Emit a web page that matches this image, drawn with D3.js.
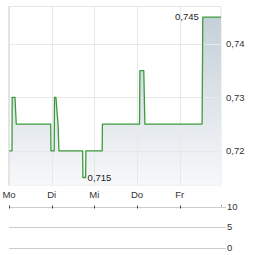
<!DOCTYPE html>
<html lang="de">
<head>
<meta charset="UTF-8">
<title>Kurs</title>
<script src="https://d3js.org/d3.v7.min.js"></script>
<style>
  body { margin: 0; background: #fff; }
  svg { display: block; font-family: "Liberation Sans", Arial, sans-serif; }
</style>
</head>
<body>
<svg id="chart" width="264" height="255"></svg>
<script>
(function () {
  'use strict';

  // time in trading-day units (0 = Mo), price in EUR
  const times  = [0.007, 0.07, 0.075, 0.14, 0.17, 0.977, 0.984, 1.06, 1.066, 1.10, 1.15, 1.17,
                  1.726, 1.733, 1.796, 1.803, 2.185, 2.19, 3.06, 3.068, 3.16, 3.185, 4.527, 4.543, 4.97];
  const prices = [0.72, 0.72, 0.73, 0.73, 0.725, 0.725, 0.72, 0.72, 0.73, 0.73, 0.725, 0.72,
                  0.72, 0.715, 0.715, 0.72, 0.72, 0.725, 0.725, 0.735, 0.735, 0.725, 0.725, 0.745, 0.745];

  const dayLabels = ["Mo", "Di", "Mi", "Do", "Fr"];
  const priceTicks = [0.72, 0.73, 0.74];
  const volumeTicks = [0, 5, 10];

  const fmt = v => d3.format(",")(v).replace(".", ",");
  const fmt3 = v => d3.format(".3f")(v).replace(".", ",");

  const svg = d3.select("#chart");

  const x = d3.scaleLinear().domain([0, 4.97]).range([9, 221]);
  const y = d3.scaleLinear().domain([0.7136, 0.7469]).range([185, 7]);
  const vy = d3.scaleLinear().domain([0, 10]).range([247.5, 206.5]);

  const data = times.map((t, i) => ({ t: t, p: prices[i] }));

  // gradient for the area
  const defs = svg.append("defs");
  const grad = defs.append("linearGradient")
      .attr("id", "areaGrad")
      .attr("gradientUnits", "userSpaceOnUse")
      .attr("x1", 0).attr("y1", y.range()[1])
      .attr("x2", 0).attr("y2", y.range()[0]);
  grad.append("stop").attr("offset", "0%").attr("stop-color", "#c1cdd6");
  grad.append("stop").attr("offset", "100%").attr("stop-color", "#f7f8fa");

  // plot frame
  svg.append("rect")
      .attr("x", 8.5).attr("y", 6.5)
      .attr("width", 221 - 8.5).attr("height", 185 - 6.5)
      .attr("fill", "#fff")
      .attr("stroke", "#e6e6e6")
      .attr("stroke-width", 1);

  // area under the line
  const area = d3.area()
      .x(d => x(d.t))
      .y0(y.range()[0])
      .y1(d => y(d.p));
  svg.append("path")
      .datum(data)
      .attr("fill", "url(#areaGrad)")
      .attr("d", area);

  // grid lines
  const grid = svg.append("g").attr("stroke", "#e8e8e8").attr("stroke-width", 1);
  grid.selectAll("line.h")
      .data(priceTicks)
      .join("line")
      .attr("class", "h")
      .attr("x1", 9).attr("x2", 221)
      .attr("y1", d => Math.round(y(d)) + 0.5)
      .attr("y2", d => Math.round(y(d)) + 0.5);
  grid.selectAll("line.v")
      .data(d3.range(dayLabels.length))
      .join("line")
      .attr("class", "v")
      .attr("x1", d => Math.round(x(d)) + 0.5)
      .attr("x2", d => Math.round(x(d)) + 0.5)
      .attr("y1", 7).attr("y2", 185);

  // left border slightly heavier
  svg.append("line")
      .attr("x1", 9).attr("x2", 9).attr("y1", 6).attr("y2", 185)
      .attr("stroke", "#e4e4e4").attr("stroke-width", 2);

  // price line
  const line = d3.line()
      .x(d => x(d.t))
      .y(d => y(d.p));
  svg.append("path")
      .datum(data)
      .attr("fill", "none")
      .attr("stroke", "#3d9b3d")
      .attr("stroke-width", 1.3)
      .attr("stroke-linejoin", "round")
      .attr("d", line);

  // right price axis labels
  svg.append("g")
      .selectAll("text")
      .data(priceTicks)
      .join("text")
      .attr("x", 226)
      .attr("y", d => y(d))
      .attr("dy", "0.35em")
      .attr("font-size", 9.5)
      .attr("fill", "#333")
      .text(d => fmt(d));

  // max / min annotations
  const maxPt = data.reduce((a, b) => (b.p > a.p ? b : a));
  const minPt = data.reduce((a, b) => (b.p < a.p ? b : a));
  svg.append("text")
      .attr("x", x(maxPt.t) - 4)
      .attr("y", y(maxPt.p))
      .attr("dy", "0.35em")
      .attr("text-anchor", "end")
      .attr("font-size", 9.5)
      .attr("fill", "#222")
      .text(fmt3(maxPt.p));
  svg.append("text")
      .attr("x", x(data[14].t) + 2)
      .attr("y", y(minPt.p))
      .attr("dy", "0.35em")
      .attr("font-size", 9.5)
      .attr("fill", "#222")
      .text(fmt3(minPt.p));

  // day labels
  svg.append("g")
      .selectAll("text")
      .data(dayLabels)
      .join("text")
      .attr("x", (d, i) => x(i))
      .attr("y", 198)
      .attr("text-anchor", "middle")
      .attr("font-size", 9.5)
      .attr("fill", "#333")
      .text(d => d);

  // volume panel
  const vol = svg.append("g");
  vol.selectAll("line.g")
      .data(volumeTicks)
      .join("line")
      .attr("class", "g")
      .attr("x1", 9).attr("x2", 226)
      .attr("y1", d => Math.round(vy(d)) + 0.5)
      .attr("y2", d => Math.round(vy(d)) + 0.5)
      .attr("stroke", "#cccccc");
  vol.append("line")
      .attr("x1", 221.5).attr("x2", 221.5)
      .attr("y1", 205).attr("y2", vy(10))
      .attr("stroke", "#888");
  vol.selectAll("line.t")
      .data(d3.range(dayLabels.length))
      .join("line")
      .attr("class", "t")
      .attr("x1", d => Math.round(x(d)) + 0.5)
      .attr("x2", d => Math.round(x(d)) + 0.5)
      .attr("y1", 205.5).attr("y2", 208.5)
      .attr("stroke", "#444");
  vol.selectAll("text")
      .data(volumeTicks)
      .join("text")
      .attr("x", 227)
      .attr("y", d => vy(d))
      .attr("dy", "0.35em")
      .attr("font-size", 9.5)
      .attr("fill", "#333")
      .text(d => d);
}());
</script>
</body>
</html>
